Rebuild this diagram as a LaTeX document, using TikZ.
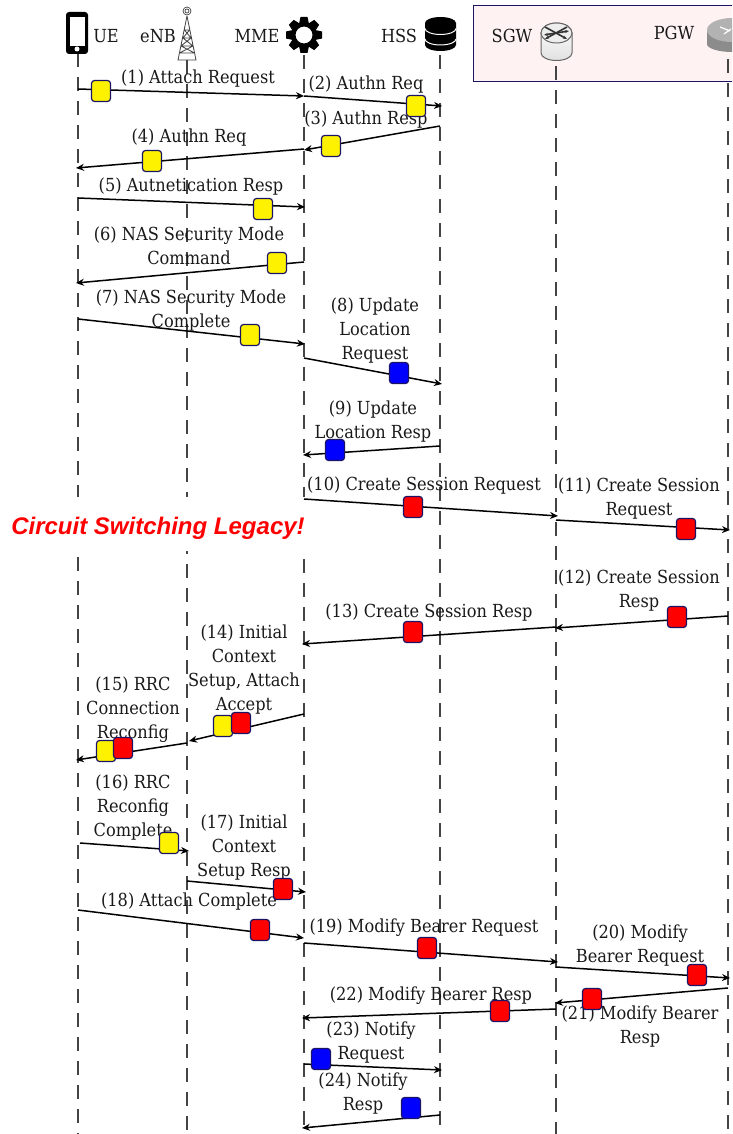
\documentclass[tikz,border=0pt]{standalone}
\usepackage{fontspec}
\setmainfont{DejaVu Serif Condensed}
\newfontfamily\lsans{Liberation Sans}
\usetikzlibrary{arrows.meta}
\definecolor{navy}{HTML}{1B1464}
\definecolor{pinkbg}{HTML}{FFF2F2}
\definecolor{lifegray}{HTML}{444444}
\tikzset{
 x=1pt,y=-1pt,
 life/.style={draw=lifegray,line width=1.2pt,dash pattern=on 14pt off 10pt},
 msg/.style={draw=black,line width=1.5pt,-{Stealth[length=8pt,width=7pt]}},
 tag/.style={draw=navy,line width=1.2pt,rounded corners=3pt,minimum width=19pt,minimum height=21pt,inner sep=0pt},
 ytag/.style={tag,fill=yellow},
 rtag/.style={tag,fill=red},
 btag/.style={tag,fill=blue},
 lab/.style={align=center,inner sep=0pt,yshift=-2pt,font=\fontsize{18}{24}\selectfont,text=black!90},
 head/.style={inner sep=0pt,font=\fontsize{18}{24}\selectfont,text=black!90},
}
\begin{document}
\begin{tikzpicture}
\useasboundingbox (0,0) rectangle (732,1134);
\clip (0,0) rectangle (732,1134);
% gateway box
\node[draw=navy,line width=1.3pt,fill=pinkbg,minimum width=300pt,minimum height=76pt,inner sep=0pt,anchor=north west] (gw) at (473,5) {};
% lifeline ends
\foreach \n/\xx/\yy in {ue/78/53,enb/187/60,mme/304/55,hss/440/55,sgw/556/66,pgw/728/59}{
 \coordinate (\n t) at (\xx,\yy);
 \coordinate (\n b) at (\xx,1134);
 \draw[life] (\n t) -- (\n b);
}
% white band behind the remark
\node[fill=white,minimum width=294pt,minimum height=54pt,inner sep=0pt,anchor=north west] (band) at (11,497) {};
% messages
\foreach \i/\ax/\ay/\bx/\by in {
1/78/89/304/96,2/304/96/442/106,3/440/126/304/150,4/304/149/76/168,5/78/198/305/207,6/304/262/76/283,7/78/319/305/344,
8/304/358/442/384,9/440/446/303/455,10/304/499/558/516,11/556/520/730/530,12/728/616/555/628,13/556/627/302/644,
14/304/714/189/741,15/187/743/76/760,16/80/843/189/851,17/187/881/306/892,18/78/910/304/938,19/304/943/558/962,
20/556/967/730/978,21/728/988/555/1003,22/556/1009/302/1018,23/304/1064/442/1070,24/440/1115/302/1128}{
 \coordinate (a\i) at (\ax,\ay);
 \coordinate (b\i) at (\bx,\by);
 \draw[msg] (a\i) -- (b\i);
}
% icons
% phone
\node[fill=black,rounded corners=3pt,minimum width=22pt,minimum height=42pt,inner sep=0pt] (phone) at (77,33) {};
\node[fill=white,minimum width=15pt,minimum height=29pt,inner sep=0pt] (screen) at (77,31.5) {};
\node[circle,fill=white,minimum size=5pt,inner sep=0pt] (btn) at (77,49) {};
% tower
\draw[black!75,line width=.8pt] (187,16)--(178,60)--(196,60)--(187,16) (184.5,30)--(189.5,30) (183,38)--(191,38) (181,46)--(193,46) (179.5,53)--(194.5,53)
 (184.5,30)--(191,38)--(181,46)--(194.5,53) (189.5,30)--(183,38)--(193,46)--(179.5,53);
\draw[black!75,line width=.7pt] (187,11) circle (2pt) (187,11) circle (4pt);
% gear
\fill[black,even odd rule] (304,35) circle (13pt) (304,35) circle (8.5pt);
\foreach \a in {0,45,...,315}{
 \fill[black,rotate around={\a:(304,35)}] (300.5,17)--(307.5,17)--(309,24)--(299,24)--cycle;
}
% database
\fill[black] (425,23)--(425,45) arc (180:360:15.5pt and 6pt)--(456,23) arc (0:180:15.5pt and 6pt)--cycle;
\draw[white,line width=1pt] (425,28.5) arc (180:360:15.5pt and 6pt) (425,39) arc (180:360:15.5pt and 6pt);
% SGW router
\draw[black!60,line width=1pt,top color=white,bottom color=black!12] (541,33)--(541,53) arc (180:360:15.5pt and 7.5pt)--(572,33) arc (0:180:15.5pt and 10pt)--cycle;
\draw[black!60,line width=1pt,fill=black!7] (556.5,33) ellipse (15.5pt and 10pt);
\draw[black!80,line width=1.6pt,-{Stealth[length=4pt]}] (545,27)--(567,39);
\draw[black!80,line width=1.6pt,-{Stealth[length=4pt]}] (567,27)--(545,39);
\draw[black!80,line width=1.6pt,-{Stealth[length=4pt]}] (556,33)--(544,35);
\draw[black!80,line width=1.6pt,-{Stealth[length=4pt]}] (556,33)--(569,31);
% PGW router
\fill[black!45] (707,30)--(707,44) arc (180:360:25pt and 8pt)--(757,30)--cycle;
\fill[black!30] (732,30) ellipse (25pt and 12pt);
\draw[white,line width=1.2pt] (720,27)--(730,31) (724,34)--(731,29);
% headers
\node[head,anchor=base] (tue) at (106,43) {UE};
\node[head,anchor=base] (tenb) at (158,43) {eNB};
\node[head,anchor=base] (tmme) at (257,43) {MME};
\node[head,anchor=base] (thss) at (399,43) {HSS};
\node[head,anchor=base] (tsgw) at (512,43) {SGW};
\node[head,anchor=base] (tpgw) at (674,40) {PGW};
% labels
\node[lab] (l1) at (198,77) {(1) Attach Request};
\node[lab] (l2) at (366,83) {(2) Authn Req};
\node[lab] (l3) at (366,118) {(3) Authn Resp};
\node[lab] (l4) at (189,136) {(4) Authn Req};
\node[lab] (l5) at (191,185) {(5) Autnetication Resp};
\node[lab] (l6) at (189,243.5) {(6) NAS Security Mode\\Command};
\node[lab] (l7) at (191,308.5) {(7) NAS Security Mode\\Complete};
\node[lab] (l8) at (375,328.5) {(8) Update\\Location\\Request};
\node[lab] (l9) at (373,419.5) {(9) Update\\Location Resp};
\node[lab] (l10) at (424,484) {(10) Create Session Request};
\node[lab] (l11) at (639,497) {(11) Create Session\\Request};
\node[lab] (l12) at (639,588.5) {(12) Create Session\\Resp};
\node[lab] (l13) at (429,611) {(13) Create Session Resp};
\node[lab] (l14) at (244,668) {(14) Initial\\Context\\Setup, Attach\\Accept};
\node[lab] (l15) at (133,708) {(15) RRC\\Connection\\Reconfig};
\node[lab] (l16) at (133,806) {(16) RRC\\Reconfig\\Complete};
\node[lab] (l17) at (244,846) {(17) Initial\\Context\\Setup Resp};
\node[lab] (l18) at (189,900) {(18) Attach Complete};
\node[lab] (l19) at (424,926) {(19) Modify Bearer Request};
\node[lab] (l20) at (640,944) {(20) Modify\\Bearer Request};
\node[lab] (l21) at (640,1025) {(21) Modify Bearer\\Resp};
\node[lab] (l22) at (431,994) {(22) Modify Bearer Resp};
\node[lab] (l23) at (371,1041) {(23) Notify\\Request};
\node[lab] (l24) at (363,1092) {(24) Notify\\Resp};
\node[inner sep=0pt,text=red,font=\lsans\bfseries\itshape\fontsize{24}{28}\selectfont] (cs) at (158,528) {Circuit Switching Legacy!};
% tags
\foreach \n/\s/\xx/\yy in {t1/ytag/101/91,t2/ytag/416/106,t3/ytag/331/146,t4/ytag/152/161,t5/ytag/263/209,t6/ytag/277/263,t7/ytag/250/335,
 t8/btag/399/373,t9/btag/335/450,t10/rtag/413/507,t11/rtag/686/529,t12/rtag/677/617,t13/rtag/413/632,
 t14y/ytag/223/726,t14r/rtag/241/723,t15y/ytag/106/751,t15r/rtag/123/748,t16/ytag/169/843,t17/rtag/283/889,t18/rtag/260/930,
 t19/rtag/427/948,t20/rtag/697/975,t21/rtag/592/999,t22/rtag/500/1011,t23/btag/321/1059,t24/btag/411/1108}{
 \node[\s] (\n) at (\xx,\yy) {};
}
\end{tikzpicture}
\end{document}
